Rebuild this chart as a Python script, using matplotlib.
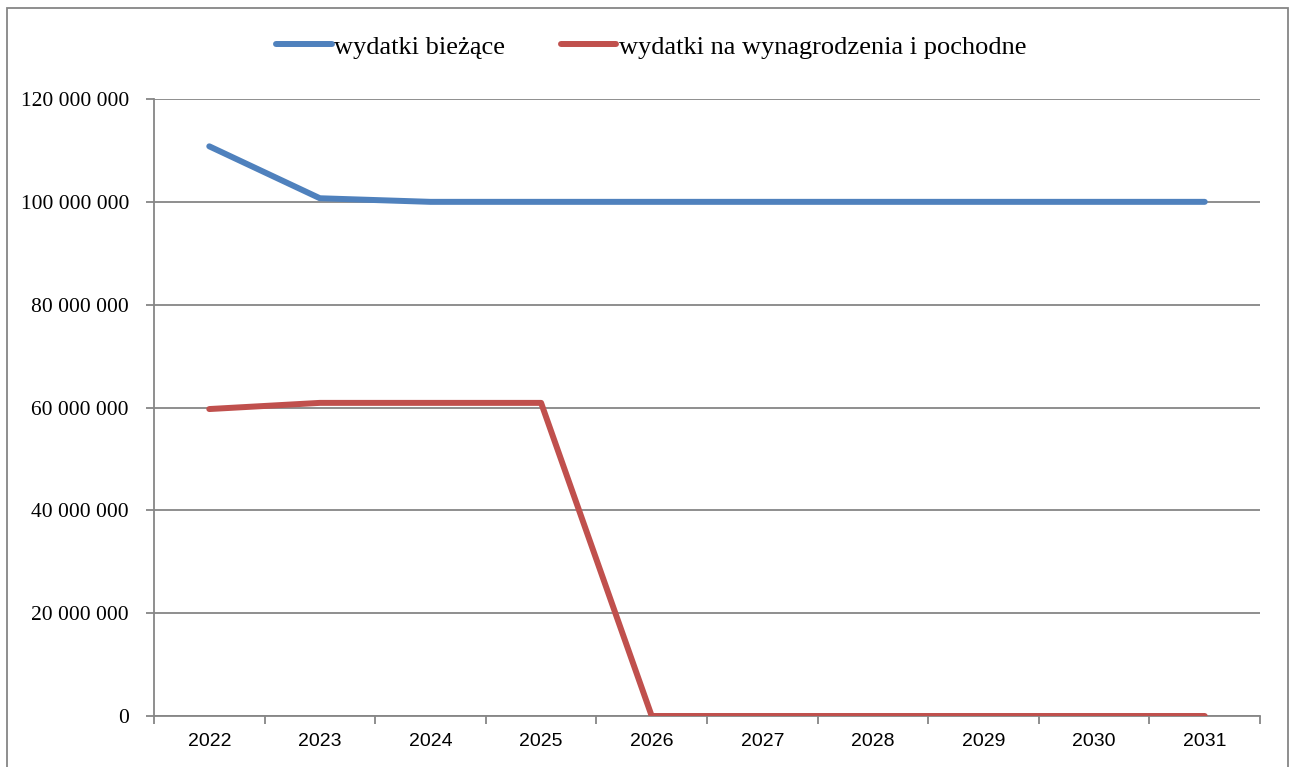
import matplotlib
matplotlib.use("Agg")
import matplotlib.pyplot as plt
from matplotlib.patches import Rectangle
from matplotlib.ticker import FixedLocator, FuncFormatter, NullFormatter

years = ["2022", "2023", "2024", "2025", "2026", "2027", "2028", "2029", "2030", "2031"]
wydatki_biezace = [110800000, 100700000, 100000000, 100000000, 100000000,
                   100000000, 100000000, 100000000, 100000000, 100000000]
wydatki_wynagrodzenia = [59700000, 60900000, 60900000, 60900000, 0,
                         0, 0, 0, 0, 0]
series_names = ["wydatki bieżące", "wydatki na wynagrodzenia i pochodne"]
y_ticks = [0, 20000000, 40000000, 60000000, 80000000, 100000000, 120000000]

grey = "#868686"
serif = ["Liberation Serif", "DejaVu Serif"]
sans = ["Liberation Sans", "DejaVu Sans"]

fig = plt.figure(figsize=(12.95, 7.67), dpi=100)
ax = fig.add_axes([0.1189, 0.0665, 0.973 - 0.1189, 0.8709 - 0.0665])

x = list(range(len(years)))
h1, = ax.plot(x, wydatki_biezace, color="#4F81BD", lw=4.3,
              solid_capstyle="round", solid_joinstyle="round", zorder=3)
h2, = ax.plot(x, wydatki_wynagrodzenia, color="#C0504D", lw=4.3,
              solid_capstyle="round", solid_joinstyle="round", zorder=3)

ax.set_xlim(-0.5, len(years) - 0.5)
ax.set_ylim(0, 120000000)

# y axis
ax.set_yticks(y_ticks)
ax.yaxis.set_major_formatter(FuncFormatter(lambda v, p: f"{int(v):,}".replace(",", " ")))
ax.yaxis.grid(True, color=grey, lw=1.3)
ax.tick_params(axis="y", direction="out", length=6, width=1.3, color=grey, pad=12,
               labelsize=15.5)
for lab in ax.get_yticklabels():
    lab.set_family(serif)

# x axis: ticks between categories, labels centred
ax.xaxis.set_major_locator(FixedLocator([i - 0.5 for i in range(len(years) + 1)]))
ax.xaxis.set_major_formatter(NullFormatter())
ax.xaxis.set_minor_locator(FixedLocator(x))
ax.set_xticklabels(years, minor=True)
ax.tick_params(axis="x", which="major", direction="out", length=6, width=1.3, color=grey)
ax.tick_params(axis="x", which="minor", length=0, pad=12, labelsize=14)
for lab in ax.get_xticklabels(minor=True):
    lab.set_family(sans)

for s in ["top", "right"]:
    ax.spines[s].set_visible(False)
for s in ["left", "bottom"]:
    ax.spines[s].set_color(grey)
    ax.spines[s].set_linewidth(1.3)
ax.set_axisbelow(True)

fig.legend([h1, h2], series_names, loc="center", bbox_to_anchor=(0.503, 1 - 47 / 767),
           ncol=2, frameon=False, handlelength=2.1, handletextpad=0.1,
           columnspacing=2.1, prop={"family": serif, "size": 19})

# outer chart border
fig.patches.append(Rectangle((7 / 1295, -0.02), (1288 - 7) / 1295, 1.02 - 8 / 767,
                             transform=fig.transFigure, fill=False,
                             edgecolor=grey, lw=1.3, clip_on=False))

fig.savefig("out.png", dpi=100)
